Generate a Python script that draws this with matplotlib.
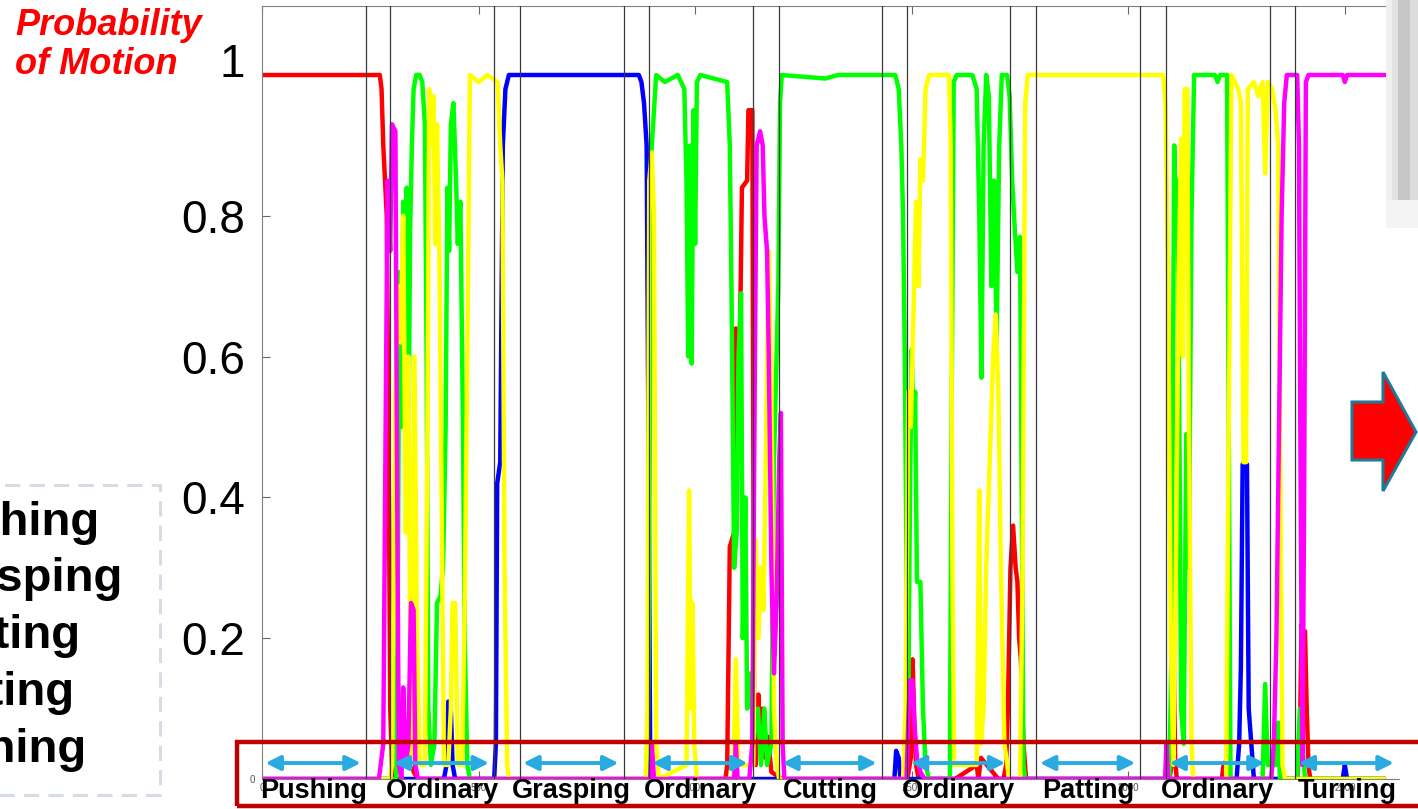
import matplotlib
matplotlib.use("Agg")
import matplotlib.pyplot as plt
from matplotlib.patches import Rectangle, Polygon
from matplotlib.transforms import ScaledTranslation

plt.rcParams['font.family'] = ['Liberation Sans', 'DejaVu Sans']

# segments of the recorded sequence (frame numbers)
seg_names = ['Pushing', 'Ordinary', 'Grasping', 'Ordinary', 'Cutting',
             'Ordinary', 'Patting', 'Ordinary', 'Turning']
seg_start = [0, 296, 595, 893, 1193, 1490, 1788, 2087, 2385]
seg_end = [240, 536, 835, 1133, 1431, 1728, 2028, 2327, 2625]

motion_names = ['Pushing', 'Grasping', 'Cutting', 'Patting', 'Turning']
motion_colors = ['#FF0000', '#0000FF', '#00FF00', '#FFFF00', '#FF00FF']

# probability of each motion, (frame, probability)
red_pts = [(0, 1), (272, 1), (276, 0.98), (280, 0.9), (284, 0.85), (288, 0.8),
           (292, 0.5), (296, 0.1), (300, 0.02), (304, 0), (320, 0.03), (326, 0.06),
           (332, 0.02), (340, 0.04), (350, 0.01), (360, 0), (1070, 0), (1074, 0.02),
           (1080, 0.33), (1090, 0.35), (1094, 0.64), (1103, 0.6), (1108, 0.84),
           (1120, 0.85), (1123, 0.95), (1132, 0.95), (1136, 0.1), (1140, 0.02),
           (1146, 0.12), (1150, 0.05), (1156, 0.1), (1162, 0.03), (1168, 0.06),
           (1176, 0.01), (1200, 0), (1490, 0), (1498, 0.03), (1502, 0.17),
           (1506, 0.08), (1510, 0.02), (1516, 0), (1600, 0), (1650, 0.02), (1654, 0),
           (1660, 0.03), (1700, 0), (1712, 0), (1718, 0.02), (1722, 0.1), (1728, 0.3),
           (1734, 0.36), (1740, 0.3), (1744, 0.28), (1748, 0.2), (1752, 0.17),
           (1758, 0.05), (1764, 0), (2095, 0), (2100, 0.02), (2104, 0.23),
           (2108, 0.03), (2112, 0), (2216, 0), (2220, 0.02), (2230, 0.03), (2236, 0),
           (2390, 0), (2396, 0.05), (2400, 0.22), (2404, 0.2), (2408, 0.21),
           (2412, 0.1), (2416, 0.02), (2420, 0), (2590, 0)]

blue_pts = [(0, 0), (420, 0), (426, 0.02), (430, 0.11), (436, 0.1), (440, 0.02),
            (446, 0), (536, 0), (540, 0.05), (543, 0.42), (550, 0.45), (556, 0.9),
            (562, 0.98), (570, 1.0), (870, 1.0), (876, 0.99), (882, 0.96), (888, 0.9),
            (892, 0.5), (896, 0.05), (900, 0), (1460, 0), (1464, 0.04), (1470, 0.03),
            (1474, 0), (2250, 0), (2256, 0.05), (2260, 0.16), (2264, 0.447),
            (2274, 0.447), (2278, 0.1), (2284, 0.05), (2290, 0), (2495, 0),
            (2500, 0.02), (2505, 0), (2590, 0)]

green_pts = [(0, 0), (310, 0), (314, 0.3), (317, 0.72), (322, 0.5), (326, 0.82),
             (330, 0.6), (334, 0.84), (338, 0.45), (342, 0.78), (346, 0.9), (350, 0.98),
             (356, 1.0), (364, 1.0), (370, 0.99), (376, 0.93), (380, 0.6), (384, 0.1),
             (390, 0.02), (398, 0.05), (404, 0.25), (412, 0.26), (418, 0.3), (424, 0.5),
             (428, 0.84), (432, 0.75), (436, 0.93), (442, 0.96), (448, 0.85),
             (452, 0.76), (458, 0.82), (464, 0.5), (468, 0.2), (474, 0.02), (480, 0),
             (890, 0), (894, 0.3), (898, 0.88), (904, 0.94), (910, 1.0), (930, 0.99),
             (960, 1.0), (975, 0.98), (980, 0.85), (984, 0.6), (988, 0.9), (992, 0.59),
             (996, 0.95), (1000, 0.76), (1004, 0.99), (1012, 1.0), (1074, 0.99),
             (1080, 0.9), (1084, 0.69), (1090, 0.3), (1096, 0.35), (1100, 0.6),
             (1106, 0.69), (1110, 0.2), (1116, 0.4), (1120, 0.1), (1128, 0.15),
             (1134, 0.05), (1145, 0.1), (1152, 0.02), (1160, 0.1), (1166, 0.02),
             (1176, 0.05), (1182, 0.45), (1188, 0.6), (1192, 0.7), (1196, 0.96),
             (1200, 1.0), (1300, 0.995), (1330, 1.0), (1462, 1.0), (1470, 0.98),
             (1476, 0.9), (1480, 0.8), (1484, 0.6), (1488, 0.3), (1492, 0.1),
             (1496, 0.4), (1500, 0.61), (1504, 0.5), (1508, 0.55), (1512, 0.28),
             (1520, 0.28), (1526, 0.1), (1532, 0.02), (1540, 0), (1588, 0), (1592, 0.5),
             (1597, 0.99), (1604, 1.0), (1640, 1.0), (1650, 0.98), (1656, 0.8),
             (1661, 0.57), (1666, 0.9), (1672, 1.0), (1678, 0.97), (1684, 0.7),
             (1690, 0.85), (1696, 0.62), (1702, 0.9), (1708, 1.0), (1720, 1.0),
             (1726, 0.97), (1732, 0.85), (1738, 0.78), (1744, 0.72), (1750, 0.77),
             (1754, 0.4), (1758, 0.02), (1762, 0), (2095, 0), (2100, 0.2), (2106, 0.9),
             (2110, 0.8), (2114, 0.85), (2118, 0.5), (2122, 0.1), (2128, 0.05),
             (2134, 0.49), (2140, 0.3), (2146, 0.8), (2152, 1.0), (2200, 1.0),
             (2206, 0.99), (2212, 1.0), (2228, 1.0), (2232, 0.5), (2236, 0),
             (2310, 0), (2316, 0.135), (2322, 0.02), (2340, 0.02), (2346, 0.08),
             (2350, 0), (2390, 0), (2396, 0.1), (2402, 0.05), (2408, 0), (2590, 0)]

yellow_pts = [(0, 0), (296, 0), (300, 0.02), (304, 0.3), (308, 0.55), (314, 0.7),
              (320, 0.62), (326, 0.8), (332, 0.35), (338, 0.6), (344, 0.02),
              (352, 0.6), (358, 0.2), (364, 0.02), (376, 0.02), (382, 0.5), (386, 0.98),
              (392, 0.9), (396, 0.97), (400, 0.76), (404, 0.93), (410, 0.72),
              (416, 0.3), (420, 0.02), (430, 0.02), (436, 0.1), (440, 0.25),
              (446, 0.25), (452, 0.02), (462, 0.02), (468, 0.25), (474, 0.6),
              (480, 1.0), (500, 0.99), (520, 1.0), (544, 0.99), (550, 0.9),
              (555, 0.85), (560, 0.3), (566, 0.02), (570, 0), (886, 0), (890, 0.1),
              (894, 0.85), (900, 0.89), (905, 0.8), (910, 0.05), (916, 0), (980, 0.02),
              (986, 0.41), (990, 0.1), (994, 0.25), (998, 0.05), (1004, 0), (1088, 0),
              (1094, 0.17), (1100, 0.02), (1134, 0.02), (1140, 0.34), (1146, 0.2),
              (1152, 0.3), (1158, 0.24), (1164, 0.5), (1170, 0.75), (1176, 0.56),
              (1182, 0.1), (1188, 0.02), (1194, 0), (1480, 0), (1486, 0.1),
              (1492, 0.55), (1498, 0.5), (1504, 0.66), (1510, 0.82), (1516, 0.7),
              (1520, 0.88), (1526, 0.85), (1532, 0.98), (1540, 1.0), (1586, 1.0),
              (1590, 0.9), (1594, 0.3), (1598, 0.02), (1650, 0.02), (1656, 0.41),
              (1660, 0.05), (1666, 0.1), (1672, 0.3), (1680, 0.45), (1688, 0.6),
              (1694, 0.66), (1700, 0.55), (1706, 0.3), (1714, 0.05), (1725, 0),
              (1750, 0), (1756, 0.3), (1762, 0.96), (1768, 1.0), (2080, 1.0),
              (2086, 0.96), (2092, 0.7), (2098, 0.2), (2104, 0.02), (2110, 0.3),
              (2116, 0.7), (2122, 0.91), (2126, 0.6), (2130, 0.98), (2136, 0.98),
              (2140, 0.5), (2146, 0.05), (2150, 0), (2226, 0), (2232, 0.5),
              (2238, 1.0), (2246, 0.99), (2254, 0.98), (2260, 0.96), (2266, 0.45),
              (2272, 0.45), (2276, 0.98), (2290, 0.99), (2300, 0.97), (2310, 0.99),
              (2316, 0.86), (2322, 0.99), (2332, 0.98), (2340, 0.95), (2346, 0.9),
              (2350, 0.5), (2356, 0.02), (2362, 0), (2590, 0)]

magenta_pts = [(0, 0), (270, 0), (280, 0.05), (286, 0.55), (290, 0.85), (296, 0.75),
               (300, 0.93), (308, 0.92), (313, 0.3), (316, 0.02), (322, 0),
               (326, 0.13), (332, 0.02), (338, 0.05), (344, 0.25), (350, 0.24),
               (354, 0.02), (360, 0), (896, 0), (900, 0.05), (905, 0), (1090, 0),
               (1094, 0.05), (1098, 0), (1125, 0), (1132, 0.05), (1138, 0.6),
               (1142, 0.9), (1150, 0.92), (1156, 0.9), (1160, 0.8), (1166, 0.75),
               (1170, 0.6), (1176, 0.3), (1182, 0.15), (1188, 0.25), (1194, 0.45),
               (1198, 0.52), (1202, 0.05), (1206, 0), (1488, 0), (1492, 0.08),
               (1496, 0.14), (1502, 0.14), (1506, 0.08), (1512, 0.03), (1520, 0.01),
               (1530, 0), (2085, 0), (2088, 0.05), (2092, 0), (2330, 0), (2336, 0.05),
               (2342, 0.2), (2348, 0.5), (2354, 0.8), (2360, 0.96), (2366, 1.0),
               (2390, 1.0), (2394, 0.9), (2398, 0.4), (2402, 0.02), (2406, 0.4),
               (2410, 0.99), (2416, 1.0), (2495, 1.0), (2500, 0.99), (2505, 1.0),
               (2590, 1.0)]

all_pts = [red_pts, blue_pts, green_pts, yellow_pts, magenta_pts]

W, H = 1418, 809


def fig_xy(x, y):
    # pixel position in the slide -> figure fraction
    return x / W, 1 - y / H


fig = plt.figure(figsize=(W / 100, H / 100), dpi=100)
ax = fig.add_axes([262 / W, 1 - 779 / H, (1399 - 262) / W, (779 - 6) / H])

for pts, color in zip(all_pts, motion_colors):
    xs = [p[0] for p in pts]
    ys = [p[1] for p in pts]
    ax.plot(xs, ys, color=color, lw=3.2, solid_joinstyle='round', zorder=2)

# segment borders
for s, e in zip(seg_start, seg_end):
    for b in (s, e):
        if 0 < b < 2625:
            ax.axvline(b, color='#3a3a3a', lw=0.9, zorder=3)

ax.set_xlim(0, 2625)
ax.set_ylim(0, 1.098)
ax.set_xticks([0, 500, 1000, 1500, 2000, 2500])
ax.set_xticklabels(['0', '500', '1000', '1500', '2000', '2500'], fontsize=7, color='#555555')
ax.set_yticks([0, 0.2, 0.4, 0.6, 0.8, 1])
ax.set_yticklabels(['0', '0.2', '0.4', '0.6', '0.8', '1'], fontsize=33)
ax.tick_params(axis='both', direction='in', length=6, color='#666666', top=True)
ax.tick_params(axis='y', pad=12)
ax.tick_params(axis='x', pad=3)
yt = ax.yaxis.get_major_ticks()
yt[0].label1.set_fontsize(7)
yt[0].label1.set_color('#555555')
lab0 = yt[0].label1
lab0.set_transform(lab0.get_transform() + ScaledTranslation(0.1, 0, fig.dpi_scale_trans))
# the "1" sits a little above its tick on the slide
lab1 = yt[-1].label1
lab1.set_transform(lab1.get_transform() + ScaledTranslation(0, 0.15, fig.dpi_scale_trans))
ax.spines['right'].set_visible(False)
for sp in ['left', 'top', 'bottom']:
    ax.spines[sp].set_color('#808080')

# double arrows and names of the segments
for name, s, e in zip(seg_names, seg_start, seg_end):
    ax.annotate('', xy=(e - 12, 0.0227), xytext=(s + 8, 0.0227),
                arrowprops=dict(arrowstyle='<|-|>', color='#29ABE2', lw=2.8,
                                mutation_scale=22, shrinkA=0, shrinkB=0),
                zorder=5, annotation_clip=False)
    ax.text((s + e) / 2, -0.0165, name, ha='center', va='center', fontsize=19.5,
            fontweight='bold', clip_on=False, zorder=6)

# red frame around the bottom labels
x0, y0 = fig_xy(237, 806)
fig.add_artist(Rectangle((x0, y0), 1.0, 64 / H, transform=fig.transFigure,
                         fill=False, edgecolor='#C00000', lw=3.2, zorder=10))

# title text at top left
tx, ty = fig_xy(15, 8)
fig.text(tx, ty, 'Probability\nof Motion', ha='left', va='top', color='#FF0000',
         fontsize=26, fontweight='bold', fontstyle='italic', linespacing=1.15)

# clipped legend box at left
bx, by = fig_xy(-10, 795)
fig.add_artist(Rectangle((bx, by), 170 / W, 310 / H, transform=fig.transFigure,
                         fill=False, edgecolor='#D6DCE5', lw=2.2,
                         linestyle=(0, (5, 3))))
legend_right = [100, 122, 80, 75, 87]
legend_base = [535, 591, 648, 705, 762]
for name, xr, yb in zip(motion_names, legend_right, legend_base):
    lx, ly = fig_xy(xr, yb)
    fig.text(lx, ly, name, ha='right', va='baseline', fontsize=34, fontweight='bold')

# grey strip at top right
for xa, xb, c in [(1386, 1392, '#f0f0f0'), (1392, 1398, '#e2e2e2'),
                  (1398, 1410, '#c6c6c6'), (1410, 1418, '#dcdcdc')]:
    rx, ry = fig_xy(xa, 200)
    fig.add_artist(Rectangle((rx, ry), (xb - xa) / W, 200 / H,
                             transform=fig.transFigure, facecolor=c, edgecolor='none'))
rx, ry = fig_xy(1386, 228)
fig.add_artist(Rectangle((rx, ry), 32 / W, 28 / H, transform=fig.transFigure,
                         facecolor='#f4f4f4', edgecolor='none'))

# red block arrow at right
arrow_px = [(1352, 402), (1383, 402), (1383, 372), (1416, 432),
            (1383, 491), (1383, 460), (1352, 460)]
fig.add_artist(Polygon([fig_xy(x, y) for x, y in arrow_px], closed=True,
                       transform=fig.transFigure, facecolor='#FF0000',
                       edgecolor='#1F7A98', lw=2.2))

fig.savefig('out.png', dpi=100)
